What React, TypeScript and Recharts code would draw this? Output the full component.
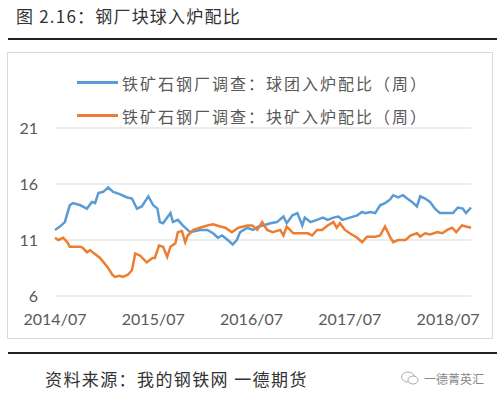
import React from 'react';
import { LineChart, Line, XAxis, YAxis, CartesianGrid } from 'recharts';

// x = months since 2014/07
const pelletMonths = [
  0, 0.6, 1.2, 1.8, 2.2, 3.1, 3.9, 4.5, 4.9, 5.3, 5.9, 6.5, 7.1, 7.9, 8.8, 9.4, 10.0, 10.6, 11.4, 12.0,
  12.5, 12.8, 13.2, 13.7, 14.1, 14.4, 15.0, 15.6, 16.5, 17.7, 18.6, 19.3, 19.9, 20.4, 21.1, 21.7, 22.2, 22.6,
  23.5, 23.8, 24.2, 24.8, 25.4, 26.3, 27.1, 27.9, 28.3, 29.0, 29.6, 30.2, 30.5, 31.2, 32.0, 32.7, 33.3, 34.0,
  34.6, 35.1, 36.0, 36.9, 37.5, 37.9, 38.5, 39.1, 39.7, 40.3, 40.9, 41.3, 41.9, 42.5, 43.0, 43.6, 44.2, 44.6,
  45.2, 45.8, 46.4, 47.0, 47.9, 48.6, 49.2, 49.8, 50.2, 50.8,
];
const pelletValues = [
  11.9, 12.2, 12.6, 14.1, 14.3, 14.1, 13.8, 14.4, 14.3, 15.2, 15.3, 15.7, 15.3, 15.1, 14.8, 14.7, 13.8, 14.0, 14.9, 14.1,
  13.8, 12.6, 12.5, 13.0, 13.4, 12.6, 12.8, 12.3, 11.7, 11.9, 11.9, 11.6, 11.2, 11.4, 11.0, 10.6, 11.0, 11.7,
  12.1, 12.0, 11.9, 12.2, 12.3, 12.5, 12.6, 13.1, 12.5, 13.2, 13.4, 12.3, 13.0, 12.6, 12.8, 13.0, 12.8, 13.0,
  13.1, 12.8, 13.0, 13.2, 13.5, 13.4, 13.5, 13.4, 14.1, 14.3, 14.6, 15.0, 14.8, 15.0, 14.7, 14.4, 14.0, 14.9,
  14.7, 14.4, 13.8, 13.4, 13.4, 13.4, 13.9, 13.8, 13.4, 13.9,
];

const lumpMonths = [
  0, 0.4, 1.0, 1.5, 1.8, 3.1, 3.4, 3.9, 4.3, 4.6, 5.5, 6.4, 7.0, 7.3, 7.9, 8.3, 8.9, 9.4, 9.8, 10.4, 11.2, 11.9,
  12.2, 12.7, 13.2, 13.7, 14.1, 14.7, 15.0, 15.5, 15.9, 16.2, 16.9, 17.7, 18.6, 19.3, 20.2, 20.8, 21.6, 22.4,
  23.5, 24.1, 24.7, 25.3, 25.9, 26.6, 27.5, 27.9, 28.3, 29.1, 29.9, 30.9, 31.4, 32.0, 32.6, 33.3, 34.0, 34.4,
  34.8, 35.4, 36.0, 36.9, 37.5, 38.1, 39.1, 39.7, 40.3, 40.9, 41.3, 41.9, 42.8, 43.4, 44.2, 44.6, 45.2, 45.8,
  46.7, 47.3, 47.9, 48.5, 49.0, 49.7, 50.2, 50.8,
];
const lumpValues = [
  11.2, 11.0, 11.2, 10.8, 10.4, 10.4, 10.3, 9.9, 10.1, 9.9, 9.4, 8.6, 7.9, 7.7, 7.8, 7.7, 7.9, 8.3, 9.8, 9.6, 9.0, 9.4,
  9.4, 10.5, 10.4, 9.5, 10.4, 10.7, 11.7, 11.8, 10.8, 11.4, 11.9, 12.1, 12.3, 12.4, 12.2, 12.1, 11.7, 12.1,
  12.3, 12.3, 11.9, 12.6, 11.9, 11.7, 11.9, 11.4, 12.2, 11.6, 11.6, 11.6, 11.4, 11.9, 11.9, 12.3, 12.6, 12.1,
  12.5, 11.9, 11.6, 11.2, 10.8, 11.3, 11.3, 11.4, 12.2, 11.3, 10.8, 11.0, 11.0, 11.4, 11.6, 11.3, 11.6, 11.5,
  11.7, 11.6, 11.9, 12.1, 11.7, 12.3, 12.2, 12.1,
];

const xTicks = [0, 12, 24, 36, 48];
const xTickLabels = ['2014/07', '2015/07', '2016/07', '2017/07', '2018/07'];
const yTicks = [6, 11, 16, 21];

const pelletName = '铁矿石钢厂调查：球团入炉配比（周）';
const lumpName = '铁矿石钢厂调查：块矿入炉配比（周）';

const pelletData = pelletMonths.map((m, i) => ({ m, v: pelletValues[i] }));
const lumpData = lumpMonths.map((m, i) => ({ m, v: lumpValues[i] }));

const BLUE = '#5B9BD5';
const ORANGE = '#ED7D31';
const CJK = '"Noto Sans CJK SC", sans-serif';
const NUM = 'Lato, "Noto Sans", sans-serif';

function LegendBox() {
  const items = [
    { name: pelletName, color: BLUE },
    { name: lumpName, color: ORANGE },
  ];
  return (
    <div style={{ position: 'absolute', left: 77, top: 66 }}>
      {items.map((it) => (
        <div key={it.name} style={{ display: 'flex', alignItems: 'center', height: 33 }}>
          <div style={{ width: 41, height: 3, background: it.color, marginRight: 4 }} />
          <span style={{ fontFamily: CJK, fontSize: 16, letterSpacing: 2, color: '#595959' }}>{it.name}</span>
        </div>
      ))}
    </div>
  );
}

export default function App() {
  return (
    <div style={{ position: 'relative', width: 500, height: 398, background: '#fff', overflow: 'hidden' }}>
      <style>{'body{margin:0}'}</style>
      <div style={{ position: 'absolute', left: 16, top: 3, fontFamily: CJK, fontSize: 17, letterSpacing: 1.2, color: '#333' }}>
        图 2.16：钢厂块球入炉配比
      </div>
      <div style={{ position: 'absolute', left: 8, top: 38, width: 489, height: 2, background: '#222' }} />
      <div
        style={{
          position: 'absolute',
          left: 7,
          top: 52,
          width: 484,
          height: 285,
          border: '1px solid #d9d9d9',
        }}
      />
      <div style={{ position: 'absolute', left: 0, top: 0 }}>
        <LineChart width={500} height={398} margin={{ top: 128, right: 29, bottom: 72, left: 10 }}>
          <CartesianGrid horizontal vertical={false} stroke="#d9d9d9" />
          <XAxis
            dataKey="m"
            type="number"
            domain={[0, 50.8]}
            ticks={xTicks}
            tickFormatter={(v: number) => xTickLabels[xTicks.indexOf(v)]}
            axisLine={false}
            tickLine={false}
            tickMargin={12}
            height={30}
            interval={0}
            tick={{ fill: '#595959', fontSize: 16, fontFamily: NUM }}
            allowDuplicatedCategory={false}
          />
          <YAxis
            type="number"
            domain={[6, 21]}
            ticks={yTicks}
            axisLine={false}
            tickLine={false}
            width={45}
            tickMargin={11}
            tick={{ fill: '#595959', fontSize: 16, fontFamily: NUM }}
          />
          <Line
            data={pelletData}
            dataKey="v"
            name={pelletName}
            stroke={BLUE}
            strokeWidth={2.5}
            dot={false}
            isAnimationActive={false}
          />
          <Line
            data={lumpData}
            dataKey="v"
            name={lumpName}
            stroke={ORANGE}
            strokeWidth={2.5}
            dot={false}
            isAnimationActive={false}
          />
        </LineChart>
      </div>
      <LegendBox />
      <div style={{ position: 'absolute', left: 8, top: 352, width: 489, height: 2, background: '#222' }} />
      <div style={{ position: 'absolute', left: 45, top: 366, fontFamily: CJK, fontSize: 17, letterSpacing: 1.4, color: '#333' }}>
        资料来源：我的钢铁网 一德期货
      </div>
      <svg style={{ position: 'absolute', left: 400, top: 370 }} width={20} height={16}>
        <ellipse cx={8} cy={7} rx={6.5} ry={5} fill="none" stroke="#aaa" strokeWidth={1} />
        <ellipse cx={13} cy={10} rx={5} ry={4} fill="#fff" stroke="#aaa" strokeWidth={1} />
      </svg>
      <div style={{ position: 'absolute', left: 424, top: 370, fontFamily: CJK, fontSize: 12, color: '#888' }}>
        一德菁英汇
      </div>
    </div>
  );
}
